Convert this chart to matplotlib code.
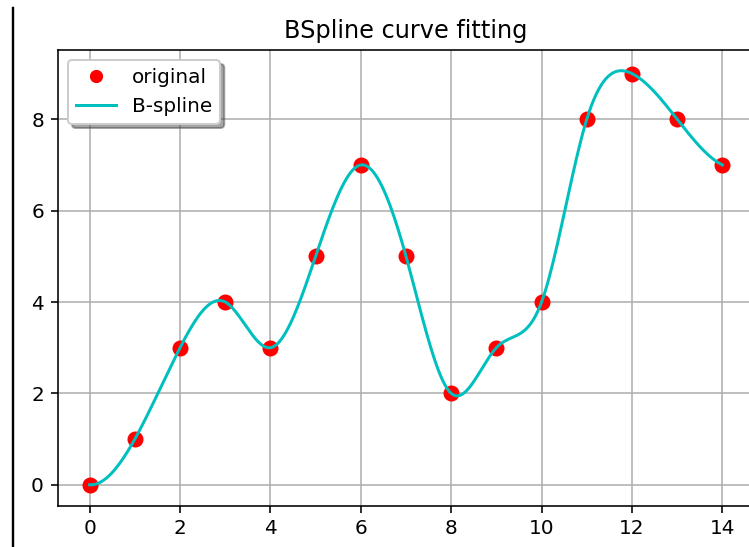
import numpy as np
import matplotlib
matplotlib.use('Agg')
import matplotlib.pyplot as plt
from matplotlib.lines import Line2D

# data points
x_points = [0, 1, 2, 3, 4, 5, 6, 7, 8, 9, 10, 11, 12, 13, 14]
y_points = [0, 1, 3, 4, 3, 5, 7, 5, 2, 3, 4, 8, 9, 8, 7]


def not_a_knot_spline(x, y, xnew):
    '''Cubic interpolating spline with not-a-knot ends (like make_interp_spline k=3)'''
    x = np.asarray(x, dtype=float)
    y = np.asarray(y, dtype=float)
    n = len(x) - 1
    h = np.diff(x)
    A = np.zeros((n + 1, n + 1))
    b = np.zeros(n + 1)
    # not-a-knot at the start
    A[0, 0], A[0, 1], A[0, 2] = h[1], -(h[0] + h[1]), h[0]
    for i in range(1, n):
        A[i, i - 1] = h[i - 1]
        A[i, i] = 2 * (h[i - 1] + h[i])
        A[i, i + 1] = h[i]
        b[i] = 6 * ((y[i + 1] - y[i]) / h[i] - (y[i] - y[i - 1]) / h[i - 1])
    # not-a-knot at the end
    A[n, n - 2], A[n, n - 1], A[n, n] = h[n - 1], -(h[n - 2] + h[n - 1]), h[n - 2]
    M = np.linalg.solve(A, b)

    idx = np.clip(np.searchsorted(x, xnew) - 1, 0, n - 1)
    x0, x1 = x[idx], x[idx + 1]
    hi = x1 - x0
    return (M[idx] * (x1 - xnew) ** 3 / (6 * hi)
            + M[idx + 1] * (xnew - x0) ** 3 / (6 * hi)
            + (y[idx] / hi - M[idx] * hi / 6) * (x1 - xnew)
            + (y[idx + 1] / hi - M[idx + 1] * hi / 6) * (xnew - x0))


xnew = np.linspace(min(x_points), max(x_points), 300)
ynew = not_a_knot_spline(x_points, y_points, xnew)

W, H = 749, 547
fig = plt.figure(figsize=(W / 144, H / 144), dpi=144)
# axes runs past the right edge, the screenshot was cropped there
ax = fig.add_axes([58 / W, (H - 505.5) / H, 696 / W, 455.5 / H])
ax.spines['right'].set_visible(False)

ax.plot(x_points, y_points, 'ro', markersize=7, label='original')
ax.plot(xnew, ynew, 'c', label='B-spline')
ax.set_title('BSpline curve fitting')
ax.grid(True)
ax.legend(loc='upper left', shadow=True, markerscale=0.8)

# screenshot border on the left
fig.add_artist(Line2D([12.5 / W, 12.5 / W], [0, (H - 8) / H],
                      transform=fig.transFigure, color='black', linewidth=1.2))

fig.savefig('out.png', dpi=144)
